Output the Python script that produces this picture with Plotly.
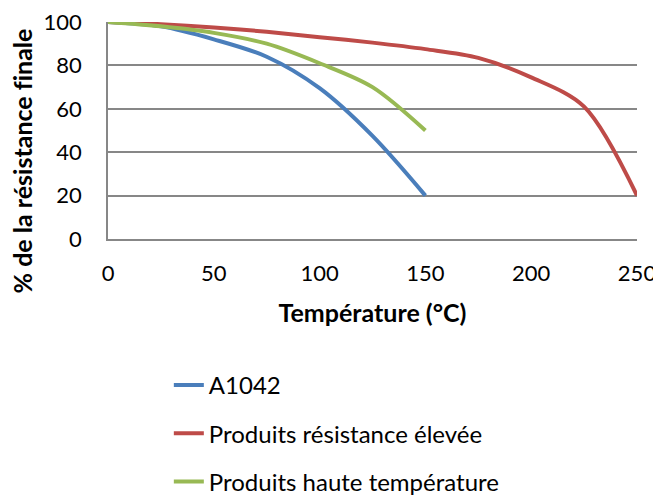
import plotly.graph_objects as go

temps = [0, 25, 50, 75, 100, 125, 150, 175, 200, 225, 250]
temps_a = [0, 25, 50, 75, 100, 125, 150]
a1042 = [100, 98, 92, 84, 69.5, 47.5, 20]
resist_elevee = [100, 99, 97.5, 95.5, 93, 90.5, 87.5, 83.5, 74.5, 61, 20]
haute_temp = [100, 98, 95, 90, 81, 70, 50]

names = ["A1042", "Produits résistance élevée", "Produits haute température"]
colors = ["#4A7EBB", "#BE4B48", "#98B954"]

FONT = "Lato"
W, H = 669, 520

fig = go.Figure()
series = [(temps_a, a1042), (temps, resist_elevee), (temps_a, haute_temp)]
for i, ((xs, ys), name, col) in enumerate(zip(series, names, colors)):
    fig.add_trace(go.Scatter(
        x=xs, y=ys, mode="lines", name=name, legendgroup=f"g{i}",
        line=dict(color=col, width=4, shape="spline", smoothing=0.9),
    ))

fig.update_layout(
    width=W, height=H,
    margin=dict(l=100, r=W - 629, t=14, b=H - 231, autoexpand=False),
    paper_bgcolor="white", plot_bgcolor="white",
    font=dict(family=FONT, size=22, color="#000000"),
    showlegend=True,
    legend=dict(
        orientation="v", x=0.115, xanchor="left",
        yref="container", y=1 - 355 / H, yanchor="top",
        tracegroupgap=14, font=dict(family=FONT, size=24, color="#000000"),
        bgcolor="rgba(0,0,0,0)",
    ),
    xaxis=dict(
        range=[0, 250], dtick=50, tick0=0, showgrid=False, automargin=False,
        showline=True, linecolor="#878787", linewidth=1.5,
        ticks="", ticklabelstandoff=14, zeroline=False, ticklabeloverflow="allow",
        title=dict(text="<b>Température (°C)</b>", standoff=19,
                   font=dict(family=FONT, size=25)),
    ),
    yaxis=dict(
        range=[0, 100], dtick=20, tick0=0, showgrid=True, automargin=False,
        gridcolor="#878787", gridwidth=1.5,
        showline=True, linecolor="#878787", linewidth=1.5,
        ticks="", ticklabelstandoff=20, zeroline=False, ticklabeloverflow="allow",
    ),
    annotations=[dict(
        text="<b>% de la résistance f\u200cinale</b>", textangle=-90,
        xref="paper", yref="paper", x=-0.162, y=0.359,
        xanchor="center", yanchor="middle", showarrow=False,
        font=dict(family=FONT, size=25, color="#000000"),
    )],
)

fig.write_html("out.html")
